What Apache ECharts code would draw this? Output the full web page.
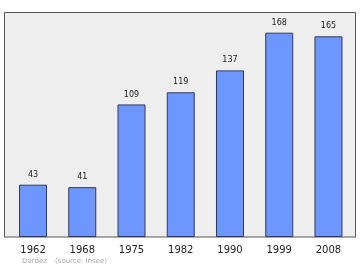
<!DOCTYPE html>
<html><head><meta charset="utf-8">
<script src="https://cdn.jsdelivr.net/npm/echarts@6/dist/echarts.min.js"></script>
<style>html,body{margin:0;padding:0;background:#fff}#c{width:360px;height:270px}</style>
</head><body><div id="c"></div>
<script>
const years = ['1962','1968','1975','1982','1990','1999','2008'];
const population = [43,41,109,119,137,168,165];
const footerAuthor = 'Dardez';
const footerSource = '(source: Insee)';

const chart = echarts.init(document.getElementById('c'), null, {renderer:'canvas'});
chart.setOption({
  animation:false,
  backgroundColor:'#ffffff',
  graphic:[
    {type:'rect', z:-10, shape:{x:4.5,y:12.5,width:351,height:224.5}, style:{fill:'#eeeeee', stroke:'#555555', lineWidth:1}},
    {type:'text', left:22, top:258, style:{text:footerAuthor, fill:'#aaaaaa', font:'7px DejaVu Sans'}},
    {type:'text', left:55, top:258, style:{text:footerSource, fill:'#aaaaaa', font:'7px DejaVu Sans'}}
  ],
  grid:{left:8.4, right:6.9, top:12, bottom:33, containLabel:false},
  xAxis:{type:'category', data:years,
    axisLine:{show:false}, axisTick:{show:false},
    axisLabel:{color:'#222', fontSize:10, fontFamily:'DejaVu Sans', margin:8}},
  yAxis:{type:'value', min:0, max:185, show:false, splitLine:{show:false}},
  series:[{type:'bar', data:population, barWidth:28,
    itemStyle:{color:'#6e96ff', borderColor:'#333a55', borderWidth:1},
    label:{show:true, position:'top', distance:6, color:'#222', fontSize:8, fontFamily:'DejaVu Sans'}}]
});
</script></body></html>
